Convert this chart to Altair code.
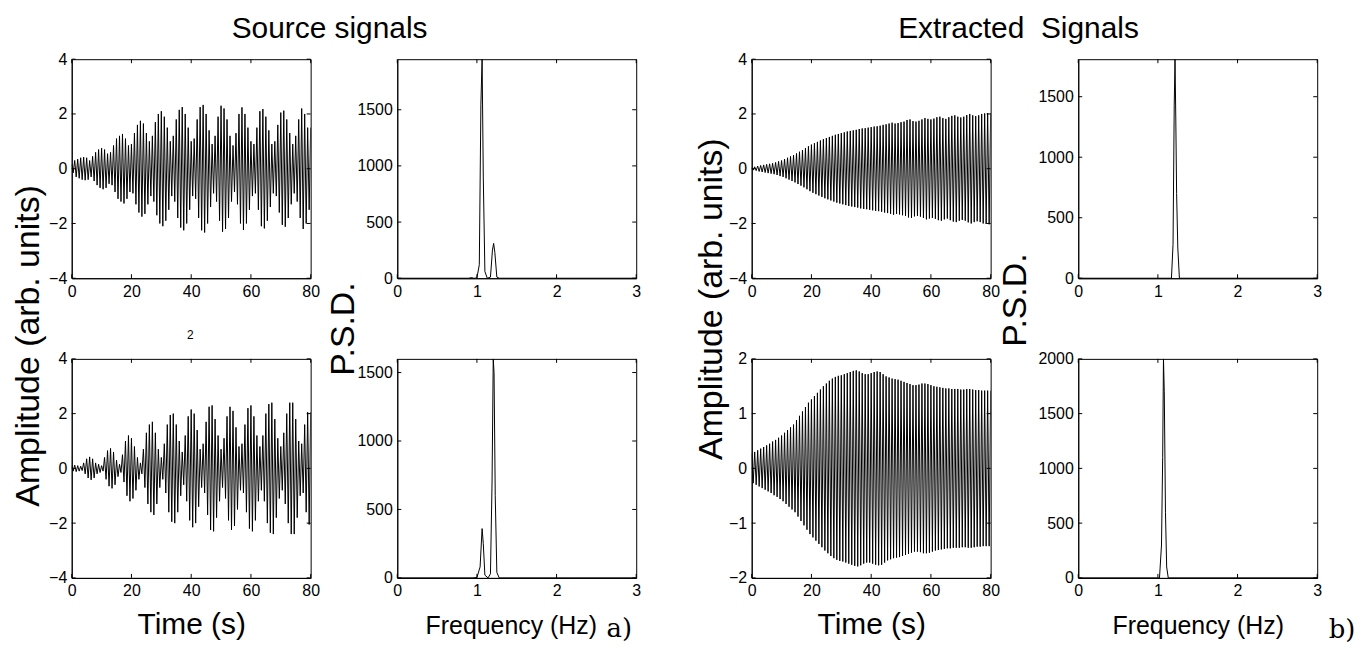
import altair as alt
import pandas as pd

# ---------------- data ----------------
# per-cycle oscillation amplitudes (one cycle per second, t = 0..79 s)
src1_amp = [0.15, 0.3, 0.35, 0.4, 0.42, 0.4, 0.3, 0.45, 0.6, 0.7,
            0.75, 0.7, 0.55, 0.6, 0.85, 1.1, 1.2, 1.27, 1.1, 0.85,
            0.9, 1.3, 1.6, 1.75, 1.65, 1.3, 1.0, 1.2, 1.7, 2.0,
            2.1, 1.9, 1.5, 1.0, 1.2, 1.8, 2.15, 2.25, 2.0, 1.5,
            1.0, 1.1, 1.8, 2.25, 2.33, 2.0, 1.4, 0.9, 1.2, 1.9,
            2.3, 2.2, 1.8, 1.2, 0.85, 1.3, 2.0, 2.24, 2.0, 1.5,
            1.0, 0.9, 1.5, 2.1, 2.18, 1.9, 1.4, 0.9, 1.0, 1.6,
            2.05, 2.12, 1.8, 1.3, 0.9, 1.2, 1.8, 2.2, 2.0, 1.5]
src2_amp = [0.1, 0.12, 0.1, 0.08, 0.2, 0.35, 0.42, 0.35, 0.2, 0.15,
            0.1, 0.4, 0.65, 0.73, 0.6, 0.3, 0.15, 0.5, 1.0, 1.2,
            1.1, 0.8, 0.4, 0.2, 0.7, 1.3, 1.6, 1.7, 1.3, 0.7,
            0.4, 0.9, 1.6, 1.95, 2.0, 1.6, 1.0, 0.6, 1.2, 1.9,
            2.15, 2.0, 1.4, 0.7, 0.9, 1.7, 2.25, 2.3, 1.8, 1.2,
            0.7, 1.1, 1.9, 2.25, 2.1, 1.5, 0.8, 0.9, 1.6, 2.2,
            2.3, 1.9, 1.2, 0.8, 1.2, 2.0, 2.35, 2.4, 1.8, 1.1,
            0.8, 1.3, 2.0, 2.4, 2.4, 1.8, 1.0, 0.9, 1.6, 2.05]
ext1_amp = [0.05, 0.07, 0.1, 0.12, 0.14, 0.16, 0.18, 0.2, 0.23, 0.27,
            0.3, 0.35, 0.4, 0.45, 0.5, 0.56, 0.62, 0.68, 0.75, 0.82,
            0.88, 0.93, 0.98, 1.03, 1.08, 1.12, 1.16, 1.2, 1.24, 1.27,
            1.3, 1.33, 1.36, 1.38, 1.4, 1.42, 1.45, 1.47, 1.48, 1.5,
            1.52, 1.54, 1.55, 1.57, 1.6, 1.62, 1.65, 1.68, 1.65, 1.67,
            1.7, 1.72, 1.78, 1.8, 1.74, 1.72, 1.75, 1.8, 1.85, 1.82,
            1.8, 1.83, 1.88, 1.9, 1.85, 1.82, 1.88, 1.93, 1.95, 1.9,
            1.87, 1.9, 1.96, 2.0, 1.95, 1.92, 1.95, 2.0, 2.02, 2.03]
ext2_amp = [0.27, 0.3, 0.33, 0.36, 0.39, 0.42, 0.45, 0.49, 0.52, 0.56,
            0.6, 0.65, 0.7, 0.75, 0.8, 0.88, 0.96, 1.04, 1.12, 1.2,
            1.26, 1.32, 1.38, 1.44, 1.5, 1.55, 1.6, 1.64, 1.67, 1.69,
            1.7, 1.72, 1.74, 1.76, 1.78, 1.79, 1.77, 1.74, 1.72, 1.72,
            1.74, 1.76, 1.77, 1.76, 1.72, 1.68, 1.66, 1.64, 1.63, 1.62,
            1.6, 1.58, 1.56, 1.54, 1.52, 1.52, 1.53, 1.55, 1.55, 1.54,
            1.52, 1.5, 1.49, 1.48, 1.47, 1.46, 1.46, 1.45, 1.45, 1.45,
            1.44, 1.44, 1.45, 1.45, 1.44, 1.43, 1.43, 1.42, 1.42, 1.42]

# power spectral densities
psd_src1_f = [0, 0.9, 0.93, 0.96, 1.0, 1.03, 1.05, 1.065, 1.08, 1.1, 1.13, 1.17, 1.195, 1.21, 1.225, 1.25, 1.28, 3]
psd_src1_p = [0, 0, 6, 0, 2, 120, 1550, 1950, 900, 60, 0, 10, 250, 310, 230, 10, 0, 0]
psd_src2_f = [0, 0.95, 1.0, 1.04, 1.065, 1.08, 1.1, 1.14, 1.17, 1.19, 1.205, 1.215, 1.23, 1.25, 1.28, 3]
psd_src2_p = [0, 0, 3, 80, 360, 250, 20, 0, 30, 700, 1600, 1500, 600, 40, 0, 0]
psd_ext1_f = [0, 1.1, 1.17, 1.19, 1.205, 1.215, 1.225, 1.235, 1.25, 1.27, 3]
psd_ext1_p = [0, 0, 0, 280, 1430, 1810, 1300, 700, 250, 0, 0]
psd_ext2_f = [0, 1.0, 1.02, 1.045, 1.06, 1.07, 1.08, 1.095, 1.11, 1.13, 3]
psd_ext2_p = [0, 0, 0, 300, 1100, 2000, 1700, 600, 100, 0, 0]

time_ticks = [0, 20, 40, 60, 80]
amp4_ticks = [-4, -2, 0, 2, 4]
amp2_ticks = [-2, -1, 0, 1, 2]
freq_ticks = [0, 1, 2, 3]
psd1500_ticks = [0, 500, 1000, 1500]
psd2000_ticks = [0, 500, 1000, 1500, 2000]

# ---------------- chart ----------------
W, H = 240, 220
SANS = "Liberation Sans, Arial, sans-serif"
SERIF = "DejaVu Serif, Liberation Serif, serif"


def signal_df(amps):
    t, v = [], []
    for i, a in enumerate(amps):
        t += [i, i + 0.5]
        v += [a, -a]
    t.append(80)
    v.append(amps[-1])
    return pd.DataFrame({"x": t, "y": v})


def panel(df, xdom, ydom, xticks, yticks, xtitle="", tsize=30, tx=120, texts=()):
    xkw = dict(values=xticks, format="d", labelFlush=False, labelOverlap=False)
    if xtitle:
        xkw.update(title=xtitle, titleX=tx, titleY=56, titleAlign="center",
                   titleBaseline="alphabetic", titleFontSize=tsize)
    else:
        xkw.update(title="")
    xax = alt.Axis(**xkw)
    yax = alt.Axis(values=yticks, format="d", title="", labelFlush=False, labelOverlap=False)
    xs = alt.Scale(domain=xdom, nice=False, zero=False)
    ys = alt.Scale(domain=ydom, nice=False, zero=False)
    line = alt.Chart(df).mark_line(color="#000", strokeWidth=1.0, clip=True).encode(
        x=alt.X("x:Q", scale=xs, axis=xax),
        y=alt.Y("y:Q", scale=ys, axis=yax),
    )
    xt = pd.DataFrame({"x": xticks})
    yt = pd.DataFrame({"y": yticks})
    tb = alt.Chart(xt).mark_rule(color="black", strokeWidth=1).encode(
        x=alt.X("x:Q", scale=xs, axis=xax), y=alt.value(H), y2=alt.value(H - 4))
    tt = alt.Chart(xt).mark_rule(color="black", strokeWidth=1).encode(
        x=alt.X("x:Q", scale=xs, axis=xax), y=alt.value(0), y2=alt.value(4))
    tl = alt.Chart(yt).mark_rule(color="black", strokeWidth=1).encode(
        y=alt.Y("y:Q", scale=ys, axis=yax), x=alt.value(0), x2=alt.value(4))
    tr = alt.Chart(yt).mark_rule(color="black", strokeWidth=1).encode(
        y=alt.Y("y:Q", scale=ys, axis=yax), x=alt.value(W), x2=alt.value(W - 4))
    layers = [line, tb, tt, tl, tr]
    for (txt, px, py, size, angle, font) in texts:
        kw = dict(fontSize=size, font=font, color="black", align="center", baseline="alphabetic")
        if angle:
            kw.update(angle=angle, baseline="middle")
        layers.append(
            alt.Chart(pd.DataFrame({"s": [txt]})).mark_text(**kw).encode(
                x=alt.value(px), y=alt.value(py), text="s:N"))
    return alt.layer(*layers).properties(width=W, height=H)


p1 = panel(signal_df(src1_amp), [0, 80], [-4, 4], time_ticks, amp4_ticks,
           texts=[("Source signals", 259, -21, 30, 0, SANS),
                  ("Amplitude (arb. units)", -43, 288, 34, 270, SANS),
                  ("2", 119, 281, 12, 0, SANS)])
p5 = panel(signal_df(src2_amp), [0, 80], [-4, 4], time_ticks, amp4_ticks, xtitle="Time (s)")
p2 = panel(pd.DataFrame({"x": psd_src1_f, "y": psd_src1_p}), [0, 3], [0, 1950], freq_ticks, psd1500_ticks,
           texts=[("P.S.D.", -53, 271, 34, 270, SANS),
                  ("a)", 223, 580, 26, 0, SERIF)])
p6 = panel(pd.DataFrame({"x": psd_src2_f, "y": psd_src2_p}), [0, 3], [0, 1600], freq_ticks, psd1500_ticks,
           xtitle="Frequency (Hz)", tsize=25, tx=114)
p3 = panel(signal_df(ext1_amp), [0, 80], [-4, 4], time_ticks, amp4_ticks,
           texts=[("Extracted\u00a0 Signals", 268, -21, 30, 0, SANS),
                  ("Amplitude (arb. units)", -40, 241, 34, 270, SANS)])
p7 = panel(signal_df(ext2_amp), [0, 80], [-2, 2], time_ticks, amp2_ticks, xtitle="Time (s)")
p4 = panel(pd.DataFrame({"x": psd_ext1_f, "y": psd_ext1_p}), [0, 3], [0, 1810], freq_ticks, psd1500_ticks,
           texts=[("P.S.D.", -62, 242, 34, 270, SANS),
                  ("b)", 265, 581, 26, 0, SERIF)])
p8 = panel(pd.DataFrame({"x": psd_ext2_f, "y": psd_ext2_p}), [0, 3], [0, 2000], freq_ticks, psd2000_ticks,
           xtitle="Frequency (Hz)", tsize=25)

left = alt.concat(p1, p2, p5, p6, columns=2, spacing={"row": 81, "column": 87}, bounds="flush")
right = alt.concat(p3, p4, p7, p8, columns=2, spacing={"row": 81, "column": 88}, bounds="flush")

chart = alt.hconcat(left, right, spacing=53).properties(
    padding={"left": 3, "top": 4, "right": 5, "bottom": 5},
    background="white",
).configure_view(stroke="black", strokeWidth=1).configure_axis(
    labelFont=SANS, labelFontSize=16, labelColor="black", labelPadding=5,
    domainColor="black", domainWidth=1, ticks=False, grid=False,
    titleFont=SANS, titleFontSize=30, titleFontWeight="normal", titleColor="black",
)

chart.save("out.html", embed_options={"renderer": "svg", "actions": False})
